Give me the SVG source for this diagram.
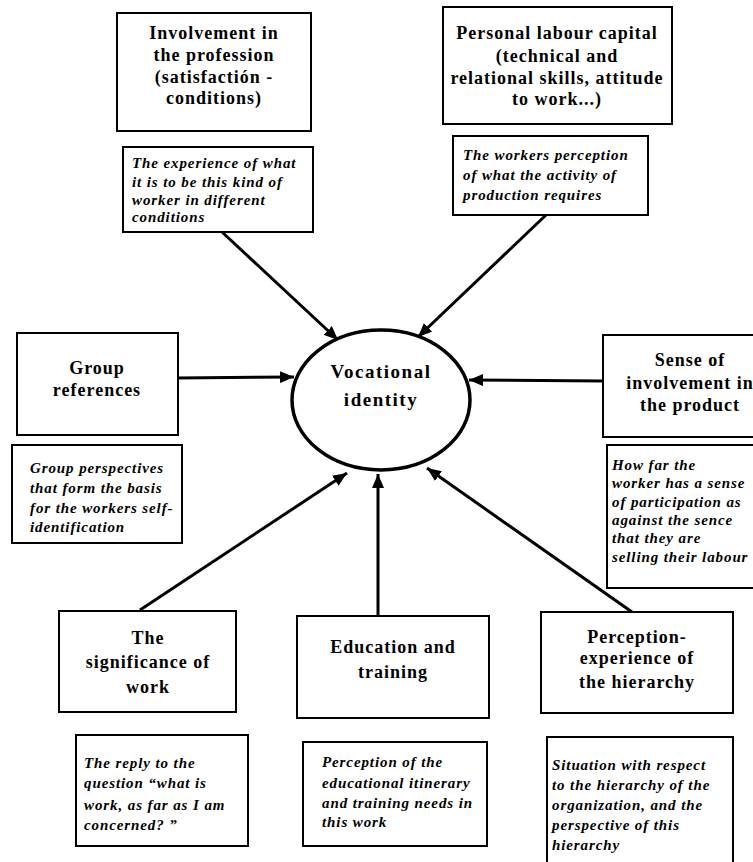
<svg xmlns="http://www.w3.org/2000/svg" width="753" height="862" viewBox="0 0 753 862">
  <style>
    .box { fill: #fff; stroke: #000; stroke-width: 2; }
    .hub { fill: #fff; stroke: #000; stroke-width: 3.5; }
    .head { font-family: "Liberation Serif", "Times New Roman", serif; font-weight: bold; font-size: 18px; letter-spacing: 1px; text-anchor: middle; fill: #000; }
    .hubtext { font-family: "Liberation Serif", "Times New Roman", serif; font-weight: bold; font-size: 19px; letter-spacing: 1.5px; text-anchor: middle; fill: #000; }
    .note { font-family: "Liberation Serif", "Times New Roman", serif; font-style: italic; font-weight: bold; font-size: 15px; letter-spacing: 0.9px; fill: #000; }
    .link { stroke: #000; stroke-width: 3; fill: none; marker-end: url(#arrow); }
  </style>
  <defs>
    <marker id="arrow" markerUnits="userSpaceOnUse" markerWidth="14" markerHeight="12" refX="14" refY="6" orient="auto">
      <path d="M0,0 L14,6 L0,12 z" fill="#000"/>
    </marker>
  </defs>
  <rect width="753" height="862" fill="#fff"/>

  <!-- connectors: every factor points at the central ellipse -->
  <g id="connectors">
    <line class="link" x1="222" y1="232" x2="338" y2="340"/>
    <line class="link" x1="546" y1="215" x2="418" y2="337"/>
    <line class="link" x1="178" y1="378" x2="294" y2="377"/>
    <line class="link" x1="603" y1="381" x2="469" y2="380"/>
    <line class="link" x1="140" y1="610" x2="347" y2="473"/>
    <line class="link" x1="378" y1="616" x2="378" y2="474"/>
    <line class="link" x1="632" y1="612" x2="427" y2="468"/>
  </g>

  <!-- central concept -->
  <g id="vocational-identity">
    <ellipse class="hub" cx="381" cy="400" rx="89" ry="70"/>
    <text class="hubtext" x="381" y="378">Vocational</text>
    <text class="hubtext" x="381" y="406">identity</text>
  </g>

  <g id="involvement-profession">
    <rect class="box" x="117" y="13" width="194" height="118"/>
    <text class="head" x="214" y="39">Involvement in</text>
    <text class="head" x="214" y="61">the profession</text>
    <text class="head" x="214" y="83">(satisfactión  -</text>
    <text class="head" x="214" y="104">conditions)</text>
  </g>
  <g id="involvement-profession-note">
    <rect class="box" x="123" y="147" width="190" height="85"/>
    <text class="note" x="132" y="168">The experience of what</text>
    <text class="note" x="132" y="187">it is to be this kind of</text>
    <text class="note" x="132" y="205">worker in different</text>
    <text class="note" x="132" y="222">conditions</text>
  </g>

  <g id="labour-capital">
    <rect class="box" x="443" y="7" width="229" height="117"/>
    <text class="head" x="557" y="39">Personal labour capital</text>
    <text class="head" x="557" y="62">(technical and</text>
    <text class="head" x="557" y="84">relational skills, attitude</text>
    <text class="head" x="557" y="105">to work...)</text>
  </g>
  <g id="labour-capital-note">
    <rect class="box" x="453" y="136" width="195" height="79"/>
    <text class="note" x="463" y="160">The workers perception</text>
    <text class="note" x="463" y="180">of what the activity of</text>
    <text class="note" x="463" y="200">production requires</text>
  </g>

  <g id="group-references">
    <rect class="box" x="17" y="333" width="161" height="102"/>
    <text class="head" x="97" y="374">Group</text>
    <text class="head" x="97" y="396">references</text>
  </g>
  <g id="group-references-note">
    <rect class="box" x="12" y="445" width="170" height="98"/>
    <text class="note" x="30" y="473">Group perspectives</text>
    <text class="note" x="30" y="493">that form the basis</text>
    <text class="note" x="30" y="513">for the workers self-</text>
    <text class="note" x="30" y="532">identification</text>
  </g>

  <g id="product-involvement">
    <rect class="box" x="603" y="335" width="170" height="102"/>
    <text class="head" x="690" y="366">Sense of</text>
    <text class="head" x="690" y="389">involvement in</text>
    <text class="head" x="690" y="411">the product</text>
  </g>
  <g id="product-involvement-note">
    <rect class="box" x="607" y="445" width="160" height="143"/>
    <text class="note" x="612" y="470">How far the</text>
    <text class="note" x="612" y="488">worker has a sense</text>
    <text class="note" x="612" y="507">of participation as</text>
    <text class="note" x="612" y="525">against the sence</text>
    <text class="note" x="612" y="543">that they are</text>
    <text class="note" x="612" y="562">selling their labour</text>
  </g>

  <g id="significance-work">
    <rect class="box" x="59" y="611" width="177" height="101"/>
    <text class="head" x="148" y="644">The</text>
    <text class="head" x="148" y="668">significance of</text>
    <text class="head" x="148" y="693">work</text>
  </g>
  <g id="significance-work-note">
    <rect class="box" x="76" y="735" width="172" height="111"/>
    <text class="note" x="84" y="768">The reply to the</text>
    <text class="note" x="84" y="788">question  “what is</text>
    <text class="note" x="84" y="810">work, as far as I am</text>
    <text class="note" x="84" y="830">concerned? ”</text>
  </g>

  <g id="education-training">
    <rect class="box" x="297" y="616" width="192" height="102"/>
    <text class="head" x="393" y="653">Education and</text>
    <text class="head" x="393" y="678">training</text>
  </g>
  <g id="education-training-note">
    <rect class="box" x="303" y="742" width="184" height="104"/>
    <text class="note" x="322" y="767">Perception of the</text>
    <text class="note" x="322" y="788">educational itinerary</text>
    <text class="note" x="322" y="808">and training needs in</text>
    <text class="note" x="322" y="827">this work</text>
  </g>

  <g id="hierarchy">
    <rect class="box" x="541" y="612" width="192" height="101"/>
    <text class="head" x="637" y="643">Perception-</text>
    <text class="head" x="637" y="664">experience of</text>
    <text class="head" x="637" y="688">the hierarchy</text>
  </g>
  <g id="hierarchy-note">
    <rect class="box" x="547" y="737" width="186" height="135"/>
    <text class="note" x="552" y="770">Situation with respect</text>
    <text class="note" x="552" y="790">to the hierarchy of the</text>
    <text class="note" x="552" y="810">organization, and the</text>
    <text class="note" x="552" y="830">perspective of this</text>
    <text class="note" x="552" y="850">hierarchy</text>
  </g>
</svg>
